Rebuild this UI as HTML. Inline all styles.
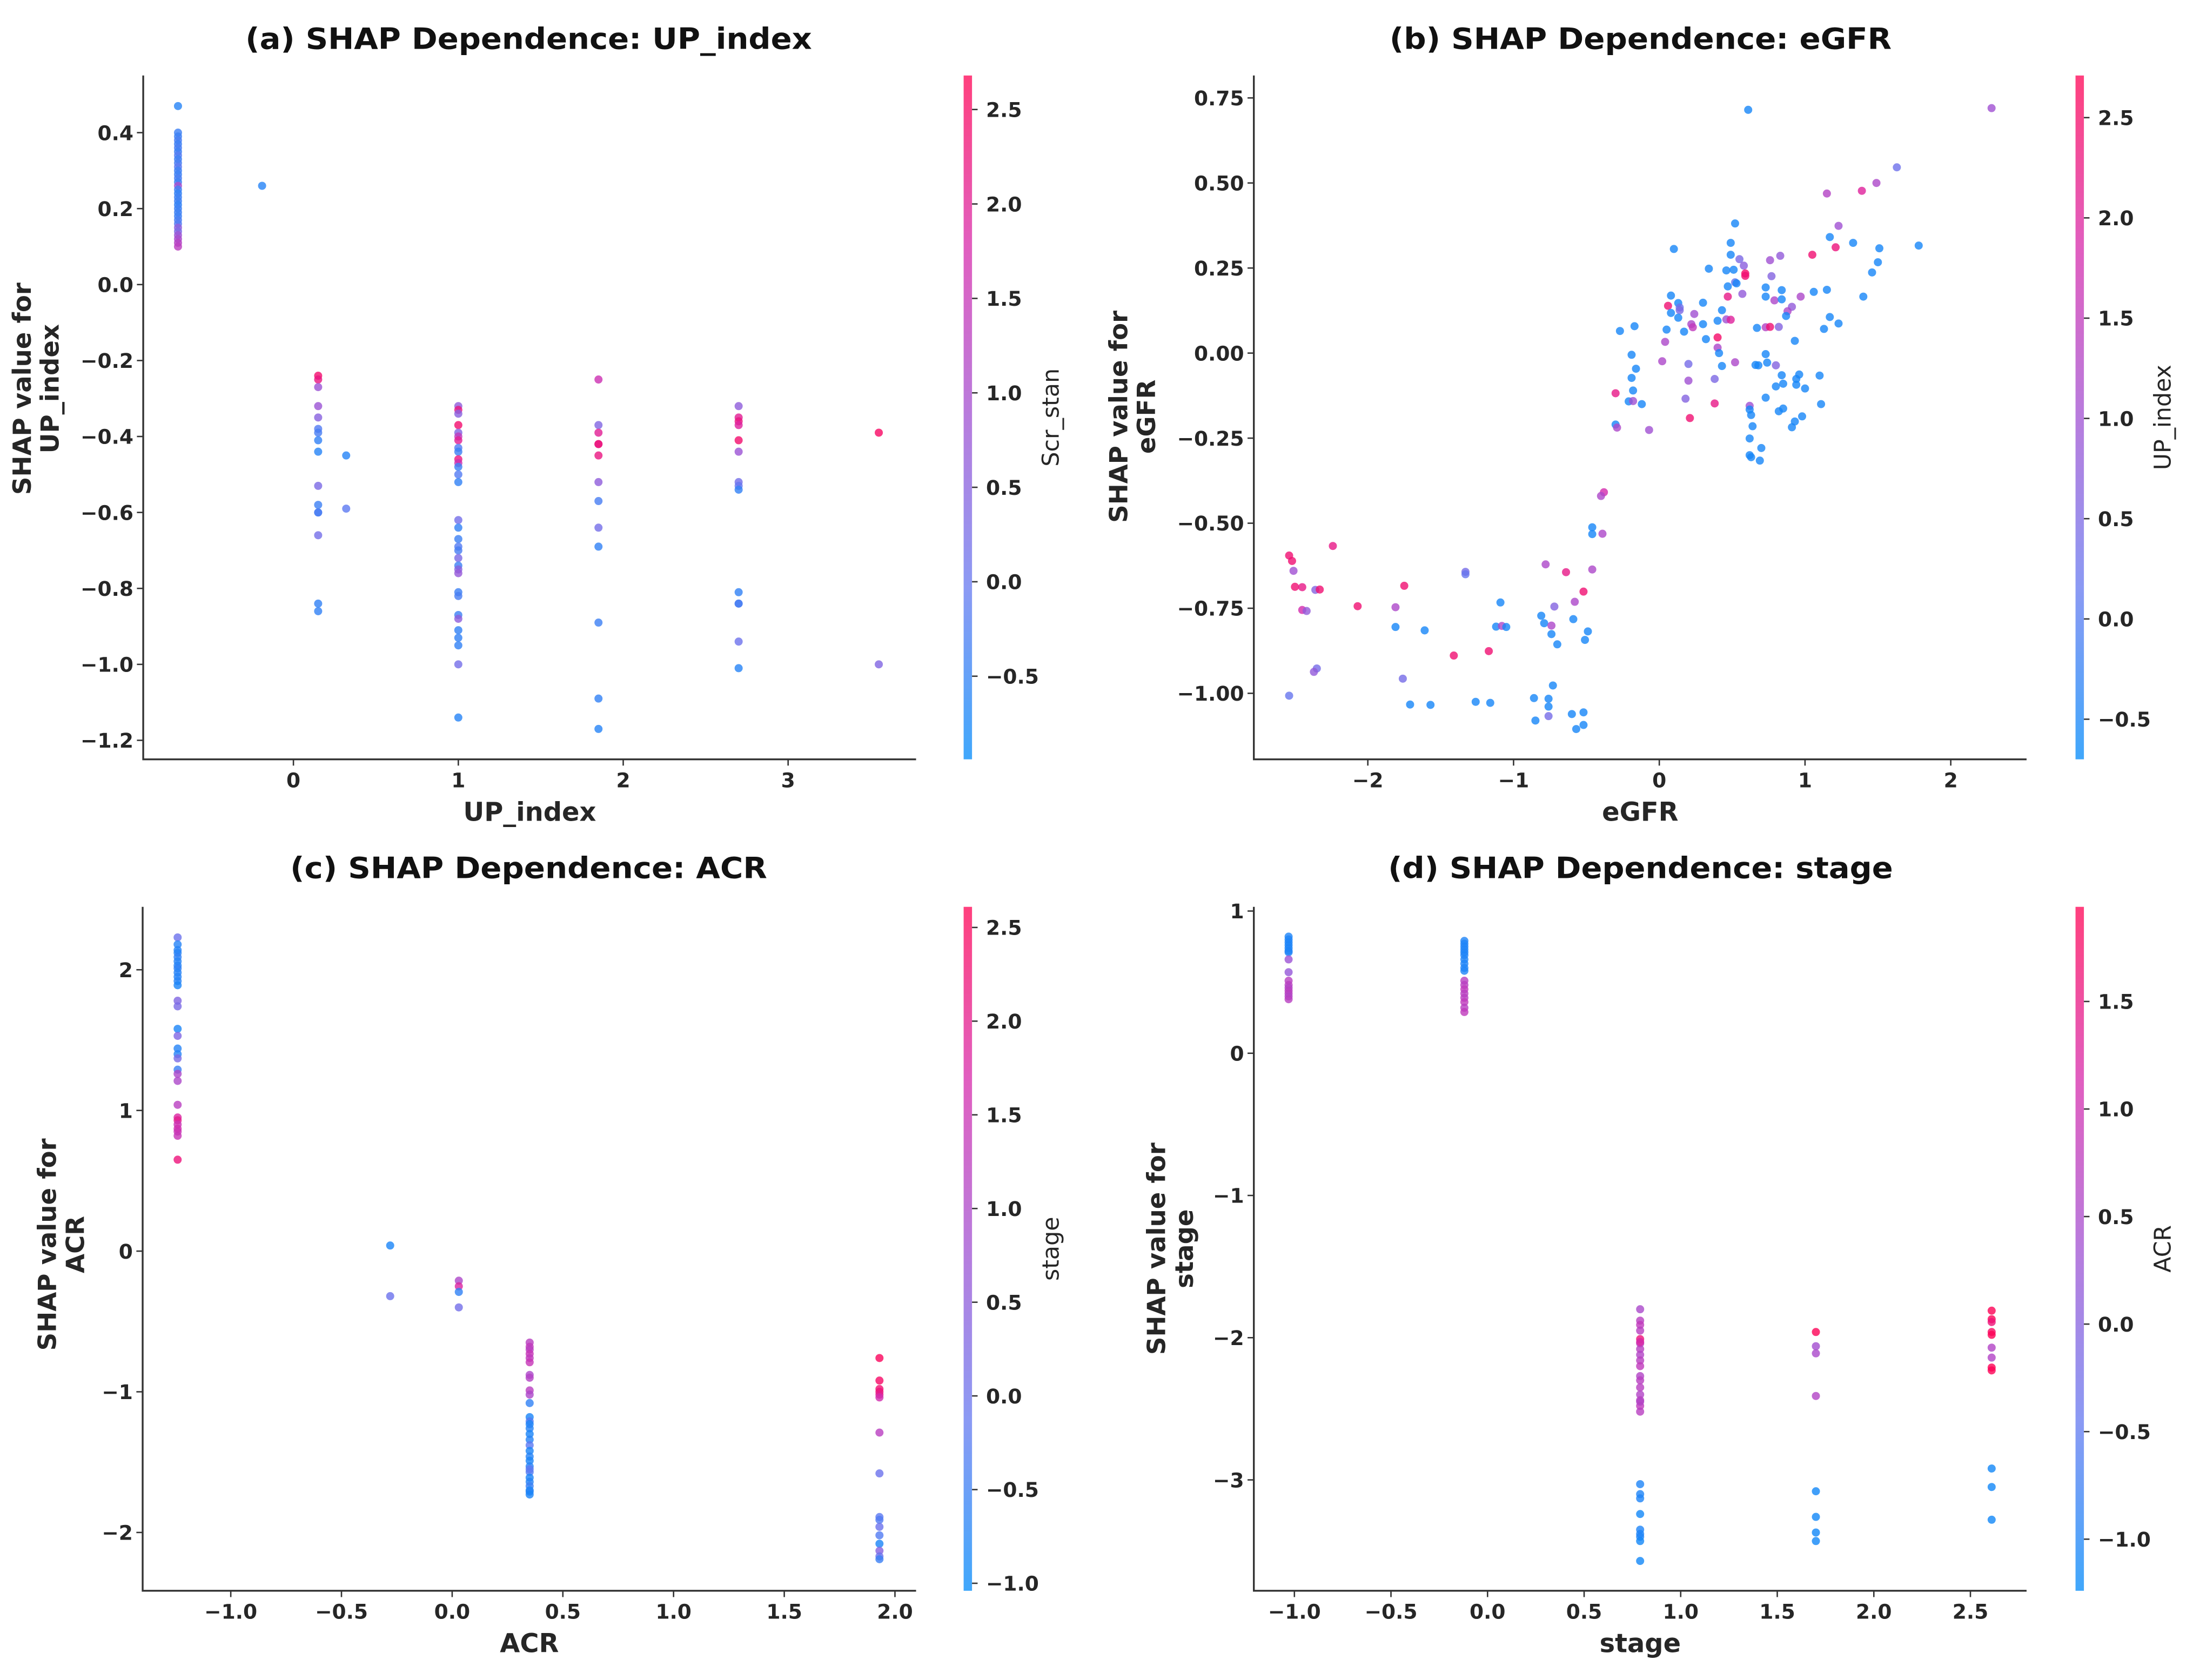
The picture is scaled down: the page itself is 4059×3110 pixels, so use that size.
<!DOCTYPE html>
<html><head><meta charset="utf-8"><title>SHAP Dependence Plots</title>
<style>
html,body{margin:0;padding:0;background:#fff;}
svg{display:block;}
text{font-family:"DejaVu Sans","Liberation Sans",sans-serif;fill:#262626;}
.tick{font-weight:bold;font-size:14.5px;}
.title{font-weight:bold;font-size:21px;fill:#111;}
.axlab{font-weight:bold;font-size:18.5px;}
.ylab{font-weight:bold;font-size:18px;}
.cblab{font-size:16.5px;}
</style></head>
<body>
<svg id="fig" xmlns="http://www.w3.org/2000/svg" width="4059" height="3110" viewBox="0 0 1568 1201.4">
<defs>
<linearGradient id="cmap" x1="0" y1="1" x2="0" y2="0">
<stop offset="0" stop-color="rgb(0,138,250)"/>
<stop offset="0.25" stop-color="rgb(100,120,240)"/>
<stop offset="0.5" stop-color="rgb(160,80,210)"/>
<stop offset="0.75" stop-color="rgb(215,40,170)"/>
<stop offset="1" stop-color="rgb(255,0,82)"/>
</linearGradient>
</defs>
</svg>
<script>
// ---------- Panel (a) UP_index ----------
const aX = [-0.70,-0.70,-0.70,-0.70,-0.70,-0.70,-0.70,-0.70,-0.70,-0.70,-0.70,-0.70,-0.70,-0.70,-0.70,-0.70,-0.70,-0.70,-0.70,-0.70,-0.70,-0.70,-0.70,-0.70,-0.70,-0.70,-0.70,-0.70,-0.70,-0.70,-0.70,-0.70,
 -0.19,
 0.15,0.15,0.15,0.15,0.15,0.15,0.15,0.15,0.15,0.15,0.15,0.15,0.15,0.15,0.15,0.15,
 0.32,0.32,
 1.0,1.0,1.0,1.0,1.0,1.0,1.0,1.0,1.0,1.0,1.0,1.0,1.0,1.0,1.0,1.0,1.0,1.0,1.0,1.0,1.0,1.0,1.0,1.0,1.0,1.0,1.0,1.0,1.0,1.0,1.0,1.0,
 1.85,1.85,1.85,1.85,1.85,1.85,1.85,1.85,1.85,1.85,1.85,1.85,1.85,
 2.70,2.70,2.70,2.70,2.70,2.70,2.70,2.70,2.70,2.70,2.70,2.70,2.70,2.70,
 3.55,3.55];
const aY = [0.47,0.40,0.39,0.38,0.37,0.36,0.35,0.34,0.33,0.32,0.31,0.30,0.29,0.28,0.27,0.26,0.25,0.24,0.23,0.22,0.21,0.20,0.19,0.18,0.17,0.16,0.15,0.14,0.13,0.12,0.11,0.10,
 0.26,
 -0.24,-0.25,-0.27,-0.32,-0.35,-0.38,-0.39,-0.41,-0.44,-0.53,-0.58,-0.60,-0.60,-0.66,-0.84,-0.86,
 -0.45,-0.59,
 -0.32,-0.33,-0.34,-0.37,-0.39,-0.40,-0.41,-0.43,-0.44,-0.46,-0.47,-0.48,-0.50,-0.52,-0.62,-0.64,-0.67,-0.69,-0.70,-0.72,-0.74,-0.75,-0.76,-0.81,-0.82,-0.87,-0.88,-0.91,-0.93,-0.95,-1.00,-1.14,
 -0.25,-0.37,-0.39,-0.42,-0.42,-0.45,-0.52,-0.57,-0.64,-0.69,-0.89,-1.09,-1.17,
 -0.32,-0.35,-0.36,-0.37,-0.41,-0.44,-0.52,-0.53,-0.54,-0.81,-0.84,-0.84,-0.94,-1.01,
 -0.39,-1.00];
const aC = [-0.6,-0.4,-0.4,-0.3,-0.4,-0.3,-0.4,-0.2,-0.4,-0.3,-0.1,-0.4,-0.4,-0.3,-0.4,1.0,-0.4,-0.5,-0.4,-0.4,-0.5,-0.4,-0.4,-0.4,-0.3,-0.2,0.6,0.3,0.8,1.0,1.2,1.3,
 -0.6,
 2.4,2.2,0.8,0.8,0.5,-0.2,-0.3,-0.5,-0.6,0.3,-0.4,-0.2,-0.3,0.2,-0.5,-0.5,
 -0.6,-0.1,
 0.6,2.2,0.5,2.4,0.4,1.4,2.0,-0.2,-0.4,2.2,1.6,-0.4,-0.2,-0.5,0.2,-0.5,-0.4,-0.2,-0.3,0.3,-0.4,0.5,0.7,-0.4,-0.3,-0.4,0.6,-0.5,-0.5,-0.5,0.2,-0.6,
 1.6,0.4,2.0,2.4,2.2,2.2,0.6,-0.3,0.2,-0.5,-0.4,-0.5,-0.6,
 0.6,2.0,2.2,1.9,2.4,0.8,0.2,0.0,-0.5,-0.5,-0.3,-0.3,0.1,-0.6,
 2.5,0.4];
const aXTicks = [0,1,2,3];
const aXTickLabels = ["0","1","2","3"];
const aYTicks = [0.4,0.2,0.0,-0.2,-0.4,-0.6,-0.8,-1.0,-1.2];
const aYTickLabels = ["0.4","0.2","0.0","\u22120.2","\u22120.4","\u22120.6","\u22120.8","\u22121.0","\u22121.2"];
const aCTicks = [2.5,2.0,1.5,1.0,0.5,0.0,-0.5];
const aCTickLabels = ["2.5","2.0","1.5","1.0","0.5","0.0","\u22120.5"];

// ---------- Panel (b) eGFR ----------
const bX = [0.61,2.28,1.63,1.49,1.39,1.15,1.23,1.17,1.33,1.21,1.51,1.78,1.05,0.52,0.49,0.49,0.10,0.55,0.76,0.83,0.34,0.46,0.51,0.58,0.59,0.59,0.77,1.50,1.46,0.47,0.52,0.53,0.73,0.84,1.06,1.15,1.40,0.08,0.06,0.13,0.14,0.14,0.08,0.13,0.24,0.30,0.47,0.43,0.57,0.73,0.79,0.84,0.97,0.91,0.88,0.87,1.17,1.23,1.13,0.46,0.49,0.40,0.22,0.23,0.30,0.05,0.17,0.67,0.73,0.76,0.82,-0.27,-0.17,0.04,0.32,0.40,0.93,0.40,0.41,-0.19,0.73,0.02,0.20,0.52,0.66,0.68,0.74,0.80,0.43,-0.16,-0.19,0.20,0.38,0.84,0.96,0.94,1.10,0.80,0.85,0.94,1.00,-0.18,-0.30,0.73,0.18,-0.21,-0.18,-0.12,0.38,0.62,0.62,0.82,0.85,0.63,0.98,1.11,0.21,0.93,0.91,0.64,-0.30,-0.29,-0.07,0.62,0.70,0.62,0.63,0.69,-0.38,-0.40,-0.46,-0.46,-0.39,
 -2.54,-2.52,-2.51,-2.24,-2.50,-2.45,-2.36,-2.33,-2.45,-2.42,-2.07,-1.81,-1.75,-1.81,-1.61,-1.33,-1.33,-0.78,-0.64,-0.46,-0.52,-0.72,-0.58,-1.09,-1.12,-1.08,-1.05,-0.81,-0.79,-0.74,-0.74,-0.70,-0.59,-0.49,-0.51,-1.41,-1.17,-2.35,-2.37,-1.76,-2.54,-1.71,-1.57,-1.26,-1.16,-0.86,-0.76,-0.73,-0.76,-0.85,-0.76,-0.60,-0.52,-0.57,-0.52];
const bY = [0.715,0.72,0.546,0.50,0.477,0.469,0.374,0.341,0.324,0.311,0.308,0.316,0.289,0.381,0.324,0.289,0.306,0.276,0.273,0.286,0.248,0.243,0.245,0.257,0.234,0.227,0.226,0.267,0.237,0.196,0.208,0.205,0.193,0.185,0.180,0.186,0.166,0.169,0.139,0.147,0.134,0.126,0.118,0.104,0.115,0.148,0.166,0.126,0.174,0.166,0.155,0.158,0.166,0.136,0.123,0.109,0.106,0.087,0.071,0.099,0.098,0.095,0.085,0.076,0.085,0.069,0.063,0.074,0.076,0.077,0.077,0.065,0.079,0.033,0.041,0.046,0.036,0.016,0.000,-0.005,-0.003,-0.024,-0.032,-0.027,-0.035,-0.036,-0.028,-0.036,-0.038,-0.046,-0.073,-0.081,-0.076,-0.065,-0.063,-0.076,-0.066,-0.098,-0.090,-0.093,-0.104,-0.110,-0.118,-0.131,-0.134,-0.142,-0.141,-0.150,-0.148,-0.155,-0.166,-0.171,-0.163,-0.182,-0.186,-0.150,-0.191,-0.201,-0.218,-0.215,-0.210,-0.219,-0.226,-0.251,-0.279,-0.300,-0.306,-0.316,-0.409,-0.420,-0.512,-0.532,-0.531,
 -0.595,-0.611,-0.640,-0.567,-0.687,-0.688,-0.696,-0.695,-0.755,-0.758,-0.744,-0.747,-0.684,-0.805,-0.815,-0.643,-0.650,-0.621,-0.644,-0.636,-0.701,-0.745,-0.731,-0.733,-0.804,-0.802,-0.805,-0.772,-0.794,-0.801,-0.826,-0.856,-0.782,-0.818,-0.843,-0.889,-0.876,-0.927,-0.937,-0.957,-1.007,-1.033,-1.034,-1.025,-1.028,-1.014,-1.016,-0.977,-1.039,-1.080,-1.067,-1.061,-1.056,-1.105,-1.093];
const bC = [-0.5,1.0,0.3,1.2,2.0,1.3,1.0,-0.5,-0.5,2.3,-0.5,-0.5,2.4,-0.5,-0.5,-0.5,-0.5,0.5,1.0,0.8,-0.5,-0.5,-0.5,0.7,2.5,2.4,0.6,-0.5,-0.5,-0.5,0.2,-0.5,-0.5,-0.5,-0.5,-0.5,-0.5,-0.5,2.4,-0.5,0.3,0.5,-0.5,-0.5,1.0,-0.5,2.2,-0.5,0.8,-0.5,1.2,-0.5,1.2,0.8,1.2,-0.5,-0.5,-0.5,-0.5,1.0,2.0,-0.5,1.2,1.5,-0.5,-0.5,-0.5,-0.5,1.3,2.4,0.6,-0.5,-0.5,1.2,-0.5,2.5,-0.5,1.2,-0.5,-0.5,-0.5,1.2,0.4,1.2,-0.5,-0.5,-0.5,0.6,-0.5,-0.5,-0.5,1.0,0.5,-0.5,-0.5,-0.5,-0.5,-0.5,-0.5,-0.5,-0.5,-0.5,2.2,-0.5,0.6,-0.5,1.0,-0.5,2.2,1.0,-0.5,-0.5,-0.5,-0.5,-0.5,-0.5,2.4,-0.5,-0.5,-0.5,-0.5,1.2,1.0,-0.5,-0.5,-0.5,-0.5,-0.5,1.8,1.2,-0.5,-0.5,1.2,
 2.4,2.4,1.0,2.2,2.4,2.2,0.6,2.4,1.8,0.8,2.4,1.2,2.4,-0.5,-0.5,0.4,0.2,1.2,2.2,1.2,2.4,0.6,1.2,-0.5,-0.5,1.2,-0.5,-0.5,-0.5,1.2,-0.5,-0.5,-0.5,-0.5,-0.5,2.4,2.4,0.4,0.8,0.4,0.2,-0.5,-0.5,-0.5,-0.5,-0.5,-0.5,-0.5,-0.5,-0.5,0.4,-0.5,-0.5,-0.5,-0.5];
const bXTicks = [-2,-1,0,1,2];
const bXTickLabels = ["\u22122","\u22121","0","1","2"];
const bYTicks = [0.75,0.5,0.25,0,-0.25,-0.5,-0.75,-1.0];
const bYTickLabels = ["0.75","0.50","0.25","0.00","\u22120.25","\u22120.50","\u22120.75","\u22121.00"];
const bCTicks = [2.5,2.0,1.5,1.0,0.5,0.0,-0.5];
const bCTickLabels = ["2.5","2.0","1.5","1.0","0.5","0.0","\u22120.5"];

// ---------- Panel (c) ACR ----------
const cX = [-1.24,-1.24,-1.24,-1.24,-1.24,-1.24,-1.24,-1.24,-1.24,-1.24,-1.24,-1.24,-1.24,-1.24,-1.24,-1.24,-1.24,-1.24,-1.24,-1.24,-1.24,-1.24,-1.24,-1.24,-1.24,-1.24,-1.24,-1.24,-1.24,-1.24,
 -0.28,-0.28,
 0.03,0.03,0.03,0.03,
 0.35,0.35,0.35,0.35,0.35,0.35,0.35,0.35,0.35,0.35,0.35,0.35,0.35,0.35,0.35,0.35,0.35,0.35,0.35,0.35,0.35,0.35,0.35,0.35,0.35,0.35,0.35,0.35,0.35,0.35,
 1.93,1.93,1.93,1.93,1.93,1.93,1.93,1.93,1.93,1.93,1.93,1.93,1.93,1.93,1.93,1.93];
const cY = [2.23,2.18,2.14,2.12,2.09,2.06,2.03,2.01,1.98,1.95,1.92,1.89,1.78,1.74,1.58,1.53,1.44,1.40,1.37,1.29,1.26,1.21,1.04,0.95,0.93,0.90,0.87,0.85,0.82,0.65,
 0.04,-0.32,
 -0.21,-0.25,-0.29,-0.40,
 -0.65,-0.68,-0.70,-0.73,-0.76,-0.79,-0.88,-0.90,-0.99,-1.02,-1.08,-1.18,-1.21,-1.23,-1.26,-1.30,-1.34,-1.38,-1.42,-1.46,-1.49,-1.53,-1.57,-1.61,-1.64,-1.67,-1.70,-1.71,-1.73,-1.55,
 -0.76,-0.92,-0.98,-1.00,-1.02,-1.04,-1.29,-1.58,-1.89,-1.91,-1.96,-2.02,-2.08,-2.13,-2.17,-2.19];
const cC = [0.0,-0.7,-0.7,-0.7,-0.6,-0.7,-0.7,-0.6,-0.7,-0.7,-0.7,-0.8,0.3,0.2,-0.8,0.3,-0.7,-0.7,0.2,-0.5,1.0,1.0,1.2,1.8,2.0,1.5,1.6,1.5,1.4,2.2,
 -0.8,0.0,
 1.0,1.8,-0.6,0.1,
 1.2,1.3,1.2,1.4,1.3,1.4,1.0,1.1,1.2,1.0,-0.6,-0.8,-0.3,-0.8,-0.7,-0.8,-0.7,-0.2,-0.8,-0.7,-0.8,-0.7,-0.3,-0.8,-0.7,-0.5,-0.8,-0.7,-0.8,-0.2,
 2.5,2.4,2.3,2.2,2.0,1.6,1.2,0.0,-0.2,-0.3,0.0,-0.3,-0.8,0.4,0.0,-0.5];
const cXTicks = [-1.0,-0.5,0.0,0.5,1.0,1.5,2.0];
const cXTickLabels = ["\u22121.0","\u22120.5","0.0","0.5","1.0","1.5","2.0"];
const cYTicks = [2,1,0,-1,-2];
const cYTickLabels = ["2","1","0","\u22121","\u22122"];
const cCTicks = [2.5,2.0,1.5,1.0,0.5,0.0,-0.5,-1.0];
const cCTickLabels = ["2.5","2.0","1.5","1.0","0.5","0.0","\u22120.5","\u22121.0"];

// ---------- Panel (d) stage ----------
const dX = [-1.03,-1.03,-1.03,-1.03,-1.03,-1.03,-1.03,-1.03,-1.03,-1.03,-1.03,-1.03,-1.03,-1.03,-1.03,-1.03,
 -0.12,-0.12,-0.12,-0.12,-0.12,-0.12,-0.12,-0.12,-0.12,-0.12,-0.12,-0.12,-0.12,-0.12,-0.12,-0.12,-0.12,-0.12,
 0.79,0.79,0.79,0.79,0.79,0.79,0.79,0.79,0.79,0.79,0.79,0.79,0.79,0.79,0.79,0.79,0.79,0.79,0.79,0.79,0.79,0.79,0.79,0.79,0.79,0.79,0.79,0.79,
 1.70,1.70,1.70,1.70,1.70,1.70,1.70,1.70,
 2.61,2.61,2.61,2.61,2.61,2.61,2.61,2.61,2.61,2.61,2.61,2.61];
const dY = [0.82,0.80,0.78,0.76,0.74,0.72,0.71,0.66,0.57,0.51,0.48,0.46,0.44,0.42,0.40,0.38,
 0.79,0.77,0.75,0.73,0.71,0.69,0.66,0.63,0.60,0.58,0.51,0.48,0.45,0.42,0.39,0.36,0.32,0.29,
 -1.80,-1.88,-1.91,-1.95,-2.01,-2.04,-2.08,-2.12,-2.16,-2.20,-2.27,-2.30,-2.35,-2.40,-2.44,-2.48,-2.52,-3.03,-3.10,-3.13,-3.24,-3.35,-3.38,-3.40,-3.43,-3.57,-2.03,-2.45,
 -1.96,-2.06,-2.11,-2.41,-3.08,-3.26,-3.37,-3.43,
 -1.81,-1.87,-1.89,-1.96,-1.98,-2.07,-2.14,-2.21,-2.23,-2.92,-3.05,-3.28];
const dC = [-1.0,-1.0,-1.0,-1.0,-1.0,-1.0,-1.0,0.3,0.2,0.7,0.7,0.6,0.7,0.7,0.6,0.7,
 -1.0,-1.0,-1.0,-1.0,-1.0,-1.0,-1.0,-1.0,-1.0,-1.0,0.7,0.7,0.8,0.7,0.7,0.8,0.7,0.8,
 0.5,0.7,0.8,0.7,1.6,0.7,0.7,0.6,0.7,0.8,0.6,0.7,0.7,0.6,0.7,0.8,0.7,-1.0,-1.0,-1.0,-1.1,-1.0,-1.0,-1.0,-1.1,-1.1,1.2,0.6,
 1.9,0.4,0.5,0.6,-1.1,-1.1,-1.1,-1.1,
 1.9,1.9,1.6,1.8,1.9,0.6,0.6,1.9,1.9,-1.1,-1.1,-1.1];
const dXTicks = [-1.0,-0.5,0.0,0.5,1.0,1.5,2.0,2.5];
const dXTickLabels = ["\u22121.0","\u22120.5","0.0","0.5","1.0","1.5","2.0","2.5"];
const dYTicks = [1,0,-1,-2,-3];
const dYTickLabels = ["1","0","\u22121","\u22122","\u22123"];
const dCTicks = [1.5,1.0,0.5,0.0,-0.5,-1.0];
const dCTickLabels = ["1.5","1.0","0.5","0.0","\u22120.5","\u22121.0"];

const NS = "http://www.w3.org/2000/svg";
const svg = document.getElementById('fig');
const STOPS = [[0,0,138,250],[0.25,100,120,240],[0.5,160,80,210],[0.75,215,40,170],[1,255,0,82]];
function cmap(t){
  t = Math.max(0, Math.min(1, t));
  for (let i = 1; i < STOPS.length; i++) {
    if (t <= STOPS[i][0]) {
      const a = STOPS[i-1], b = STOPS[i];
      const f = (t - a[0]) / (b[0] - a[0]);
      return 'rgb(' + [1,2,3].map(k => Math.round(a[k] + (b[k]-a[k])*f)).join(',') + ')';
    }
  }
  return 'rgb(255,0,82)';
}
function mk(tag, attrs, parent){
  const e = document.createElementNS(NS, tag);
  for (const k in attrs) e.setAttribute(k, attrs[k]);
  (parent || svg).appendChild(e);
  return e;
}
function drawPanel(p){
  const g = mk('g', {});
  
  
  const sx = v => p.x0 + v * p.kx;
  const sy = v => p.y0 - v * p.ky;
  const t = mk('text', {x: p.titleX, y: p.titleY, 'text-anchor': 'middle', class: 'title', textLength: p.titleW, lengthAdjust: 'spacingAndGlyphs'}, g);
  t.textContent = p.title;
  
  
  const pts = mk('g', {}, g);
  
  
  for (let i = 0; i < p.xs.length; i++) {
    const c = mk('circle', {cx: sx(p.xs[i]), cy: sy(p.ys[i]), r: 2.9, fill: cmap((p.cs[i]-p.vmin)/(p.vmax-p.vmin)), 'fill-opacity': 0.8}, pts);
    
    
  }
  const sp = mk('path', {d: `M${p.left},${p.top}V${p.bottom}H${p.right}`, fill: 'none', stroke: '#333', 'stroke-width': 1.3}, g);
  
  
  p.xt.forEach((v, i) => {
    const x = sx(v);
    mk('line', {x1: x, x2: x, y1: p.bottom, y2: p.bottom + 4.5, stroke: '#333', 'stroke-width': 1}, g);
    const l = mk('text', {x: x, y: p.bottom + 20, 'text-anchor': 'middle', class: 'tick'}, g);
    l.textContent = p.xtl[i];
    
    
  });
  p.yt.forEach((v, i) => {
    const y = sy(v);
    mk('line', {x1: p.left - 4.5, x2: p.left, y1: y, y2: y, stroke: '#333', 'stroke-width': 1}, g);
    const l = mk('text', {x: p.left - 7, y: y + 5.3, 'text-anchor': 'end', class: 'tick'}, g);
    l.textContent = p.ytl[i];
    
    
  });
  const xl = mk('text', {x: (p.left + p.right)/2, y: p.bottom + 44, 'text-anchor': 'middle', class: 'axlab'}, g);
  xl.textContent = p.xlabel;
  
  
  const yl = mk('text', {transform: `translate(${p.ylx},${p.yly}) rotate(-90)`, 'text-anchor': 'middle', class: 'ylab'}, g);
  
  
  const s1 = mk('tspan', {x: 0, y: 0}, yl); s1.textContent = 'SHAP value for';
  const s2 = mk('tspan', {x: 0, y: 20}, yl); s2.textContent = p.feature;
  const cb = mk('rect', {x: p.cbx, y: p.top, width: 6, height: p.bottom - p.top, fill: 'url(#cmap)', 'fill-opacity': 0.75}, g);
  
  
  const cy = v => p.bottom - (v - p.vmin) / (p.vmax - p.vmin) * (p.bottom - p.top);
  p.ct.forEach((v, i) => {
    const y = cy(v);
    mk('line', {x1: p.cbx + 6, x2: p.cbx + 10, y1: y, y2: y, stroke: '#333', 'stroke-width': 1}, g);
    const l = mk('text', {x: p.cbx + 16, y: y + 5.3, class: 'tick'}, g);
    l.textContent = p.ctl[i];
    
    
  });
  const cl = mk('text', {transform: `translate(${p.cbx + 68},${(p.top + p.bottom)/2}) rotate(-90)`, 'text-anchor': 'middle', class: 'cblab'}, g);
  cl.textContent = p.clabel;
  
  
}
drawPanel({key:'a', title:'(a) SHAP Dependence: UP_index', titleX:378, titleY:35, titleW:405, feature:'UP_index', xlabel:'UP_index', clabel:'Scr_stan',
  xs:aX, ys:aY, cs:aC, xt:aXTicks, xtl:aXTickLabels, yt:aYTicks, ytl:aYTickLabels, ct:aCTicks, ctl:aCTickLabels,
  x0:209.8, kx:117.9, y0:203.5, ky:271.6, left:102.4, right:655, top:54, bottom:543, cbx:689, vmin:-0.94, vmax:2.68, ylx:22, yly:278});
drawPanel({key:'b', title:'(b) SHAP Dependence: eGFR', titleX:1173, titleY:35, titleW:359, feature:'eGFR', xlabel:'eGFR', clabel:'UP_index',
  xs:bX, ys:bY, cs:bC, xt:bXTicks, xtl:bXTickLabels, yt:bYTicks, ytl:bYTickLabels, ct:bCTicks, ctl:bCTickLabels,
  x0:1186.4, kx:104.2, y0:252.5, ky:243.3, left:896.5, right:1449, top:54, bottom:543, cbx:1484, vmin:-0.70, vmax:2.71, ylx:806, yly:298});
drawPanel({key:'c', title:'(c) SHAP Dependence: ACR', titleX:378, titleY:628, titleW:341, feature:'ACR', xlabel:'ACR', clabel:'stage',
  xs:cX, ys:cY, cs:cC, xt:cXTicks, xtl:cXTickLabels, yt:cYTicks, ytl:cYTickLabels, ct:cCTicks, ctl:cCTickLabels,
  x0:323.3, kx:158.3, y0:894.7, ky:100.6, left:102, right:655, top:648.5, bottom:1137.6, cbx:689, vmin:-1.04, vmax:2.61, ylx:40, yly:890});
drawPanel({key:'d', title:'(d) SHAP Dependence: stage', titleX:1173, titleY:628, titleW:361, feature:'stage', xlabel:'stage', clabel:'ACR',
  xs:dX, ys:dY, cs:dC, xt:dXTicks, xtl:dXTickLabels, yt:dYTicks, ytl:dYTickLabels, ct:dCTicks, ctl:dCTickLabels,
  x0:1063.6, kx:138.1, y0:753.2, ky:101.7, left:896.5, right:1449, top:648.5, bottom:1137.6, cbx:1484, vmin:-1.24, vmax:1.94, ylx:833, yly:893});
</script>
</body></html>
